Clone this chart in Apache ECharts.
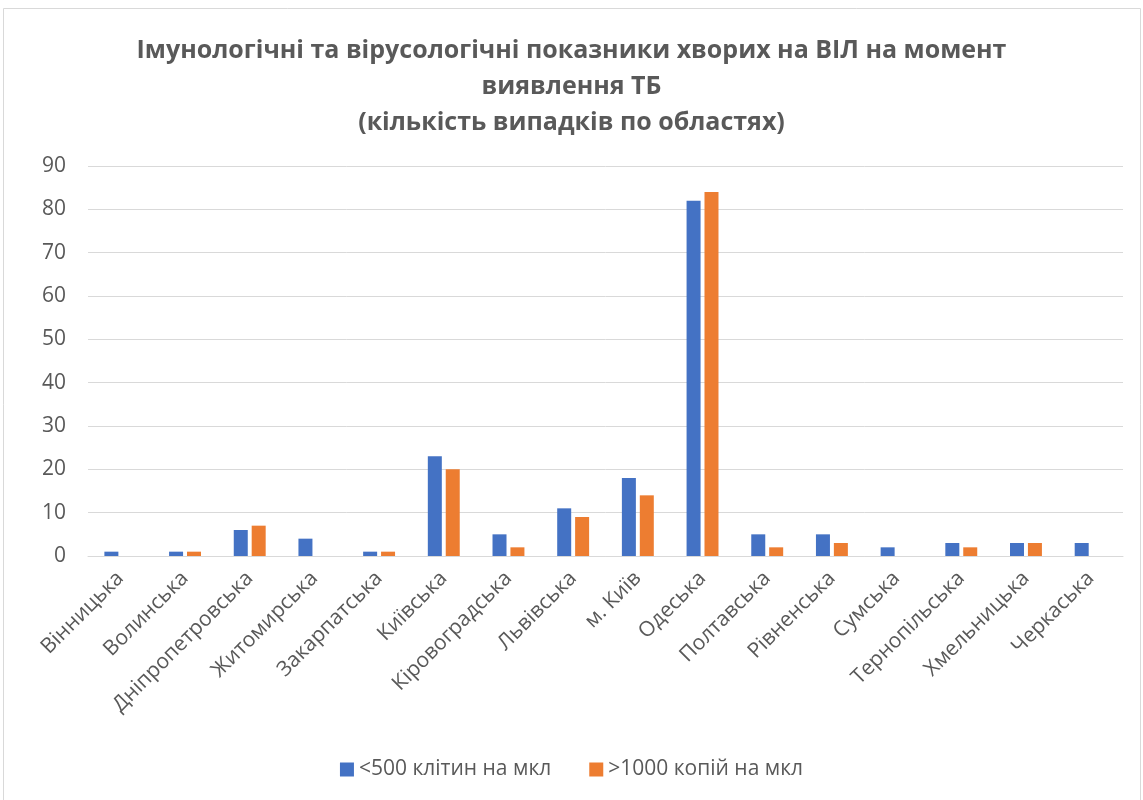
<!DOCTYPE html>
<html>
<head>
<meta charset="utf-8">
<script src="https://cdn.jsdelivr.net/npm/echarts@6/dist/echarts.min.js"></script>
<style>
  html, body { margin: 0; padding: 0; background: #fff; }
  #chart { width: 1143px; height: 800px; }
</style>
</head>
<body>
<div id="chart"></div>
<script>
// Області (категорії осі X)
const regions = [
  'Вінницька', 'Волинська', 'Дніпропетровська', 'Житомирська', 'Закарпатська',
  'Київська', 'Кіровоградська', 'Львівська', 'м. Київ', 'Одеська',
  'Полтавська', 'Рівненська', 'Сумська', 'Тернопільська', 'Хмельницька', 'Черкаська'
];
// Кількість випадків: CD4 < 500 клітин на мкл
const cd4Below500 = [1, 1, 6, 4, 1, 23, 5, 11, 18, 82, 5, 5, 2, 3, 3, 3];
// Кількість випадків: вірусне навантаження > 1000 копій на мкл
const viralAbove1000 = [0, 1, 7, 0, 1, 20, 2, 9, 14, 84, 2, 3, 0, 2, 3, 0];

const seriesNames = ['<500 клітин на мкл', '>1000 копій на мкл'];
const titleText = 'Імунологічні та вірусологічні показники хворих на ВІЛ на момент\nвиявлення ТБ\n(кількість випадків по областях)';

const FONT = '"Open Sans", "Noto Sans", sans-serif';
const TEXT_GREY = '#595959';

const chart = echarts.init(document.getElementById('chart'), null, { renderer: 'canvas' });
chart.setOption({
  backgroundColor: '#ffffff',
  animation: false,
  title: {
    text: titleText,
    left: 'center',
    top: 28,
    textStyle: {
      fontFamily: FONT,
      fontSize: 25,
      fontWeight: 'bold',
      color: TEXT_GREY,
      lineHeight: 36
    }
  },
  graphic: [{
    type: 'rect',
    shape: { x: 3.5, y: 8.5, width: 1137, height: 800 },
    style: { fill: 'none', stroke: '#d9d9d9', lineWidth: 1 },
    silent: true,
    z: -10
  }],
  legend: {
    bottom: 15,
    left: 'center',
    itemWidth: 14,
    itemHeight: 14,
    itemGap: 38,
    icon: 'rect',
    textStyle: { fontFamily: FONT, fontSize: 21, color: TEXT_GREY },
    data: seriesNames
  },
  grid: { left: 88, right: 20, top: 166, bottom: 244, containLabel: false },
  xAxis: {
    type: 'category',
    data: regions,
    axisLine: { lineStyle: { color: '#d9d9d9', width: 1 } },
    axisTick: { show: false },
    axisLabel: {
      rotate: 45,
      interval: 0,
      margin: 19,
      fontFamily: FONT,
      fontSize: 21,
      color: TEXT_GREY
    }
  },
  yAxis: {
    type: 'value',
    min: 0,
    max: 90,
    interval: 10,
    axisLine: { show: false },
    axisTick: { show: false },
    splitLine: { lineStyle: { color: '#d9d9d9', width: 1 } },
    axisLabel: {
      margin: 22,
      fontFamily: FONT,
      fontSize: 21,
      color: TEXT_GREY
    }
  },
  series: [
    {
      name: seriesNames[0],
      type: 'bar',
      data: cd4Below500,
      barWidth: 14,
      barGap: '28%',
      itemStyle: { color: '#4472C4' }
    },
    {
      name: seriesNames[1],
      type: 'bar',
      data: viralAbove1000,
      barWidth: 14,
      itemStyle: { color: '#ED7D31' }
    }
  ]
});
</script>
</body>
</html>
